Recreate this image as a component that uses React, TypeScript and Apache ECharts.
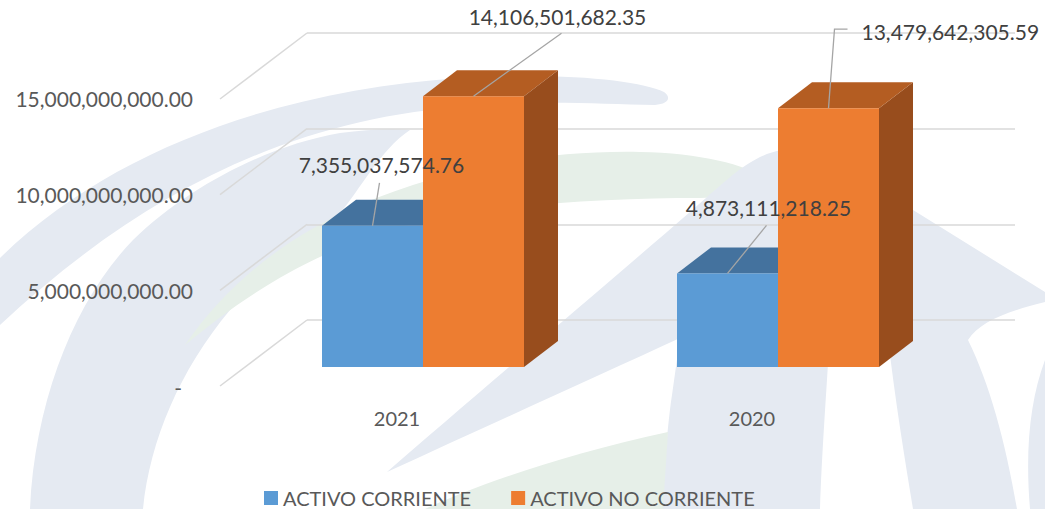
import React, { useEffect, useRef } from 'react';
import * as echarts from 'echarts';

// ---------------- data ----------------
const categories = ['2021', '2020'];
const seriesNames = ['ACTIVO CORRIENTE', 'ACTIVO NO CORRIENTE'];
const activoCorriente = [7355037574.76, 4873111218.25];
const activoNoCorriente = [14106501682.35, 13479642305.59];
const yTicks = [0, 5000000000, 10000000000, 15000000000];

// ---------------- styles ----------------
const FONT = 'Lato';
const FRONT = ['#5b9bd5', '#ed7d31'];
const TOP = ['#44729e', '#b45d22'];
const SIDE = ['#3d6791', '#984d1d'];
const DX = 34;
const DY = -26;
const BAR_RATIO = 101 / 355;
const GRID_COLOR = '#d9d9d9';

// label leader layout, relative to the centre of each bar's front top edge
const labelLayouts: any[][] = [
  [
    { line: [[0, 0], [7, -43]], text: [9, -61], align: 'center' },
    { line: [[0, 0], [39, -48]], text: [41, -66], align: 'center' },
  ],
  [
    { line: [[0, 0], [88, -63]], text: [84, -80], align: 'center' },
    { line: [[0, 0], [6, -79], [19, -79]], text: [33, -77], align: 'left' },
  ],
];

// ---------------- watermark shapes ----------------
const BLUE_WM = '#e5eaf2';
const GREEN_WM = '#e6efe8';
const watermark = [
  { name: 'wmBandOuter', fill: BLUE_WM, d: 'M 0 258 C 110 150 280 90 460 78 C 560 72 640 80 664 92 C 672 98 668 104 655 105 C 600 104 540 100 470 106 C 300 118 150 185 0 325 Z' },
  { name: 'wmBandC', fill: BLUE_WM, d: 'M 30 509 C 35 400 75 300 133 240 C 190 185 270 145 340 133 C 365 130 390 128 410 130 C 380 150 360 190 340 213 C 300 240 260 275 230 310 C 180 370 150 440 143 509 Z' },
  { name: 'wmGreen', fill: GREEN_WM, d: 'M 185 345 C 230 280 290 235 360 205 C 440 170 540 150 640 152 C 700 153 750 165 765 180 C 760 192 735 196 700 198 C 600 198 480 205 390 230 C 300 258 240 300 185 345 Z' },
  { name: 'wmFan', fill: BLUE_WM, d: 'M 387 472 C 470 400 600 290 690 212 C 725 182 750 155 782 150 C 820 146 860 175 905 205 L 1045 292 L 1045 509 L 662 509 C 664 470 668 420 672 395 L 680 338 C 600 375 500 420 387 472 Z' },
  { name: 'wmGreen2', fill: GREEN_WM, d: 'M 425 509 C 470 488 560 455 668 432 L 663 509 Z' },
  { name: 'wmCutA', fill: '#ffffff', d: 'M 830 330 L 887 330 C 895 400 905 460 913 509 L 820 509 C 822 450 826 400 830 330 Z' },
  { name: 'wmCutB', fill: '#ffffff', d: 'M 968 340 C 980 322 1005 312 1045 302 L 1045 360 C 1030 400 1025 450 1030 509 L 1017 509 C 1005 440 990 385 968 340 Z' },
];
watermark.forEach((s) => {
  echarts.graphic.registerShape(s.name, echarts.graphic.extendPath(s.d, {}) as any);
});

const fmt = (v: number) =>
  v.toLocaleString('en-US', { minimumFractionDigits: 2, maximumFractionDigits: 2 });

function makeBarRender(si: number) {
  return (params: any, api: any) => {
    const ci = api.value(0);
    const v = api.value(1);
    const top = api.coord([ci, v]);
    const base = api.coord([ci, 0]);
    const w = api.size([1, 0])[0] * BAR_RATIO;
    const x0 = si === 0 ? top[0] - w : top[0];
    const x1 = x0 + w;
    const yt = top[1];
    const yb = base[1];
    const cx = (x0 + x1) / 2;
    const lay = labelLayouts[si][ci];
    return {
      type: 'group',
      children: [
        {
          type: 'polygon',
          shape: { points: [[x1, yt], [x1 + DX, yt + DY], [x1 + DX, yb + DY], [x1, yb]] },
          style: { fill: SIDE[si] },
        },
        {
          type: 'polygon',
          shape: { points: [[x0, yt], [x1, yt], [x1 + DX, yt + DY], [x0 + DX, yt + DY]] },
          style: { fill: TOP[si] },
        },
        {
          type: 'rect',
          shape: { x: x0, y: yt, width: w, height: yb - yt },
          style: { fill: FRONT[si] },
        },
        {
          type: 'polyline',
          z2: 50,
          shape: { points: lay.line.map((p: number[]) => [cx + p[0], yt + p[1]]) },
          style: { stroke: '#a5a5a5', lineWidth: 1.3, fill: null },
        },
        {
          type: 'text',
          z2: 60,
          style: {
            text: fmt(v),
            x: cx + lay.text[0],
            y: yt + lay.text[1],
            align: lay.align,
            verticalAlign: 'middle',
            fill: '#404040',
            fontSize: 21,
            fontFamily: FONT,
          },
        },
      ],
    };
  };
}

export default function App() {
  const ref = useRef<HTMLDivElement>(null);

  useEffect(() => {
    if (!ref.current) return;
    const chart = echarts.init(ref.current, undefined, { renderer: 'svg' });
    const option: any = {
      animation: false,
      backgroundColor: '#ffffff',
      graphic: {
        elements: watermark.map((s) => ({
          type: s.name,
          x: 0,
          y: 0,
          z: -1,
          silent: true,
          style: { fill: s.fill },
        })),
      },
      legend: {
        data: seriesNames,
        left: 264,
        top: 488,
        padding: 0,
        itemWidth: 14,
        itemHeight: 14,
        itemGap: 40,
        icon: 'rect',
        textStyle: { fontSize: 20, color: '#595959', fontFamily: FONT },
      },
      grid: [
        { left: 220, top: 98, width: 10, height: 289 },
        { left: 307, top: 33, right: 30, height: 287 },
        { left: 245.5, top: 79, width: 710, height: 288 },
      ],
      xAxis: [
        { gridIndex: 0, type: 'value', show: false, min: 0, max: 1 },
        { gridIndex: 1, type: 'value', show: false, min: 0, max: 1 },
        {
          gridIndex: 2,
          type: 'category',
          data: categories,
          axisLine: { show: false },
          axisTick: { show: false },
          axisLabel: {
            margin: 41,
            padding: [0, 52, 0, 0],
            color: '#595959',
            fontSize: 20,
            fontFamily: FONT,
          },
        },
      ],
      yAxis: [
        {
          gridIndex: 0,
          type: 'value',
          min: 0,
          max: 15000000000,
          interval: 5000000000,
          axisLine: { show: false },
          axisTick: { show: false },
          splitLine: { show: false },
          axisLabel: {
            margin: 27,
            color: '#595959',
            fontSize: 21,
            fontFamily: FONT,
            formatter: (v: number) => (v === 0 ? '{d|-}' : fmt(v)),
            rich: {
              d: { padding: [0, 11, 0, 0], fontSize: 21, color: '#595959', fontFamily: FONT },
            },
          },
        },
        {
          gridIndex: 1,
          type: 'value',
          min: 0,
          max: 15000000000,
          interval: 5000000000,
          axisLine: { show: false },
          axisTick: { show: false },
          axisLabel: { show: false },
          splitLine: { lineStyle: { color: GRID_COLOR, width: 1.5 } },
        },
        { gridIndex: 2, type: 'value', min: 0, max: 15000000000, show: false },
      ],
      series: [
        {
          type: 'custom',
          name: 'diagonals',
          xAxisIndex: 1,
          yAxisIndex: 1,
          silent: true,
          z: 1,
          data: yTicks.map((v) => [0, v]),
          renderItem: (params: any, api: any) => {
            const p = api.coord([api.value(0), api.value(1)]);
            return {
              type: 'line',
              shape: { x1: p[0] - 87, y1: p[1] + 66, x2: p[0], y2: p[1] },
              style: { stroke: GRID_COLOR, lineWidth: 1.5 },
            };
          },
        },
        {
          type: 'custom',
          name: seriesNames[0],
          xAxisIndex: 2,
          yAxisIndex: 2,
          itemStyle: { color: FRONT[0] },
          encode: { x: 0, y: 1 },
          data: categories.map((c, i) => [i, activoCorriente[i]]),
          renderItem: makeBarRender(0),
        },
        {
          type: 'custom',
          name: seriesNames[1],
          xAxisIndex: 2,
          yAxisIndex: 2,
          itemStyle: { color: FRONT[1] },
          encode: { x: 0, y: 1 },
          data: categories.map((c, i) => [i, activoNoCorriente[i]]),
          renderItem: makeBarRender(1),
        },
      ],
    };
    chart.setOption(option);
    return () => chart.dispose();
  }, []);

  return (
    <div
      ref={ref}
      style={{ position: 'fixed', left: 0, top: 0, width: 1045, height: 509, background: '#fff' }}
    />
  );
}
